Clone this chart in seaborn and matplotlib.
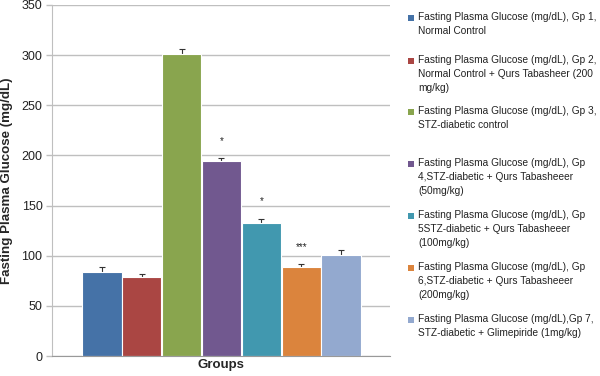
import numpy as np
import pandas as pd
import seaborn as sns
import matplotlib.pyplot as plt
from matplotlib.patches import Rectangle

# === data ===
groups = ['Gp 1', 'Gp 2', 'Gp 3', 'Gp 4', 'Gp 5', 'Gp 6', 'Gp 7']
glucose = [84, 79, 301, 194, 133, 89, 101]
sem = [4.5, 3, 5, 3, 4, 3, 4.5]
signif = ['', '', '', '*', '*', '***', '']
legend_labels = [
    'Fasting Plasma Glucose (mg/dL), Gp 1,\nNormal Control',
    'Fasting Plasma Glucose (mg/dL), Gp 2,\nNormal Control + Qurs Tabasheer (200\nmg/kg)',
    'Fasting Plasma Glucose (mg/dL), Gp 3,\nSTZ-diabetic control',
    'Fasting Plasma Glucose (mg/dL), Gp\n4,STZ-diabetic + Qurs Tabasheeer\n(50mg/kg)',
    'Fasting Plasma Glucose (mg/dL), Gp\n5STZ-diabetic + Qurs Tabasheeer\n(100mg/kg)',
    'Fasting Plasma Glucose (mg/dL), Gp\n6,STZ-diabetic + Qurs Tabasheeer\n(200mg/kg)',
    'Fasting Plasma Glucose (mg/dL),Gp 7,\nSTZ-diabetic + Glimepiride (1mg/kg)',
]
colors = ['#4572A7', '#AA4643', '#89A54E', '#71588F', '#4198AF', '#DB843D', '#93A9CF']

df = pd.DataFrame({'group': groups, 'glucose': glucose})

sns.set_style('white')
plt.rcParams['font.family'] = ['Liberation Sans', 'DejaVu Sans']

fig = plt.figure(figsize=(6, 3.76), dpi=100)
ax = fig.add_axes([0.087, 0.053, 0.563, 0.934])

sns.barplot(data=df, x='group', y='glucose', hue='group', palette=colors,
            saturation=1, width=0.98, edgecolor='white', linewidth=0.8,
            legend=False, ax=ax)

# error bars behind the bars so only the upper "T" shows
x = np.arange(len(groups))
ax.errorbar(x, glucose, yerr=sem, fmt='none', ecolor='#333333',
            elinewidth=0.8, capsize=2, capthick=0.8, zorder=0.9)

# significance stars above the error bars
for xi, v, e, s in zip(x, glucose, sem, signif):
    if s:
        ax.text(xi, v + e + 12, s, ha='center', va='bottom', fontsize=7, color='#222222')

ax.set_ylim(0, 350)
ax.set_yticks(range(0, 351, 50))
ax.set_xlim(-1.25, 7.23)
ax.set_xticks([])
ax.yaxis.grid(True, color='#BFBFBF', linewidth=1)
ax.set_axisbelow(True)
for side in ['top', 'right']:
    ax.spines[side].set_visible(False)
ax.spines['bottom'].set_color('#999999')
ax.spines['left'].set_color('#BFBFBF')
ax.tick_params(axis='y', left=True, length=4, width=1, color='#BFBFBF',
               pad=3, labelsize=9, labelcolor='#222222')

ax.set_xlabel('Groups', fontsize=9.5, fontweight='bold', labelpad=2)
ax.set_ylabel('Fasting Plasma Glucose (mg/dL)', fontsize=9.6, fontweight='bold', labelpad=6)

# legend drawn by hand, Excel style (marker next to first line)
W, H = 600, 376
legend_y = [18, 61, 112, 164, 216, 268, 320]
for c, lab, yp in zip(colors, legend_labels, legend_y):
    fig.patches.append(Rectangle((408 / W, 1 - (yp + 3) / H), 6 / W, 6 / H,
                                 facecolor=c, edgecolor='none', transform=fig.transFigure))
    fig.text(418 / W, 1 - (yp - 6) / H, lab, ha='left', va='top', fontsize=7.3,
             color='#222222', linespacing=1.48)

plt.savefig('out.png', dpi=100)
